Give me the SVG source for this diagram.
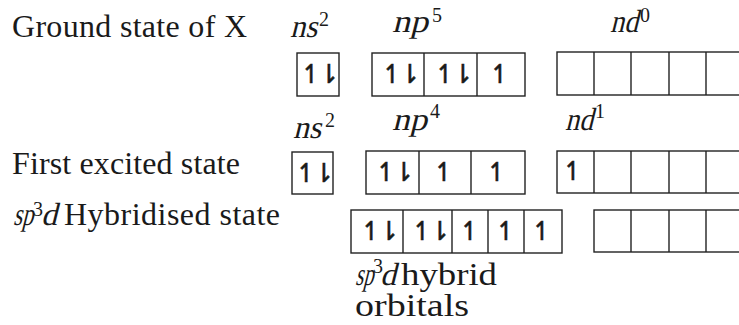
<svg xmlns="http://www.w3.org/2000/svg" width="739" height="325" viewBox="0 0 739 325">
<style>
.lbl{font-family:"Liberation Serif","Times New Roman",serif;font-size:32px;fill:#1a1a1a}
.it{font-family:"Liberation Serif","Times New Roman",serif;font-size:32px;fill:#1a1a1a}
.sup{font-family:"Liberation Serif","Times New Roman",serif;font-size:20px;fill:#1a1a1a}
.box{fill:#fff;stroke:#222;stroke-width:1.4}
.div{stroke:#222;stroke-width:1.4}
.e{font-family:"DejaVu Sans",sans-serif;font-size:26px;text-anchor:middle;fill:#1a1a1a;stroke:#1a1a1a;stroke-width:0.5}
.pr{letter-spacing:-4px}
</style>
<rect width="739" height="325" fill="#fff"/>
<g id="label-ground">
<text class="lbl" x="12" y="37" textLength="235" lengthAdjust="spacing">Ground state of X</text>
</g>
<g id="label-excited">
<text class="lbl" x="12" y="174" textLength="228" lengthAdjust="spacing">First excited state</text>
</g>
<g id="label-hybrid">
<g transform="translate(13,225) skewX(-14)"><text class="it" x="0" y="0" textLength="20" lengthAdjust="spacingAndGlyphs">sp</text></g>
<text class="sup" x="33" y="216">3</text>
<g transform="translate(41,225) skewX(-14)"><text class="it" x="0" y="0">d</text></g>
<text class="lbl" x="64" y="225" textLength="216" lengthAdjust="spacing">Hybridised state</text>
</g>
<g id="sub-ground">
<g transform="translate(290,37) skewX(-14)"><text class="it" x="0" y="0" textLength="27" lengthAdjust="spacingAndGlyphs">ns</text></g>
<text class="sup" x="319" y="26">2</text>
<g transform="translate(392,32) skewX(-14)"><text class="it" x="0" y="0" textLength="36" lengthAdjust="spacingAndGlyphs">np</text></g>
<text class="sup" x="432" y="22">5</text>
<g transform="translate(610,32) skewX(-14)"><text class="it" x="0" y="0" textLength="28" lengthAdjust="spacingAndGlyphs">nd</text></g>
<text class="sup" x="640" y="22">0</text>
</g>
<g id="sub-excited">
<g transform="translate(293,138) skewX(-14)"><text class="it" x="0" y="0" textLength="28" lengthAdjust="spacingAndGlyphs">ns</text></g>
<text class="sup" x="325" y="127">2</text>
<g transform="translate(392,130) skewX(-14)"><text class="it" x="0" y="0" textLength="35" lengthAdjust="spacingAndGlyphs">np</text></g>
<text class="sup" x="430" y="118">4</text>
<g transform="translate(565,130) skewX(-14)"><text class="it" x="0" y="0" textLength="28" lengthAdjust="spacingAndGlyphs">nd</text></g>
<text class="sup" x="595" y="118">1</text>
</g>
<g id="ground-ns">
<rect class="box" x="297" y="53" width="42" height="43"/>
<text class="e pr" x="318" y="83">↿⇂</text>
</g>
<g id="ground-np">
<rect class="box" x="372" y="53" width="153" height="43"/>
<line class="div" x1="424" y1="53" x2="424" y2="96"/>
<line class="div" x1="477" y1="53" x2="477" y2="96"/>
<text class="e pr" x="399" y="83">↿⇂</text>
<text class="e pr" x="452" y="83">↿⇂</text>
<text class="e" x="500" y="83">↿</text>
</g>
<g id="ground-nd">
<rect class="box" x="557" y="52" width="190" height="43"/>
<line class="div" x1="594" y1="52" x2="594" y2="95"/>
<line class="div" x1="631" y1="52" x2="631" y2="95"/>
<line class="div" x1="669" y1="52" x2="669" y2="95"/>
<line class="div" x1="706" y1="52" x2="706" y2="95"/>
</g>
<g id="excited-ns">
<rect class="box" x="292" y="152" width="41" height="42"/>
<text class="e pr" x="313" y="182">↿⇂</text>
</g>
<g id="excited-np">
<rect class="box" x="366" y="151" width="159" height="43"/>
<line class="div" x1="419" y1="151" x2="419" y2="194"/>
<line class="div" x1="471" y1="151" x2="471" y2="194"/>
<text class="e pr" x="393" y="181">↿⇂</text>
<text class="e" x="444" y="181">↿</text>
<text class="e" x="497" y="181">↿</text>
</g>
<g id="excited-nd">
<rect class="box" x="557" y="151" width="190" height="42"/>
<line class="div" x1="594" y1="151" x2="594" y2="193"/>
<line class="div" x1="631" y1="151" x2="631" y2="193"/>
<line class="div" x1="669" y1="151" x2="669" y2="193"/>
<line class="div" x1="706" y1="151" x2="706" y2="193"/>
<text class="e" x="573" y="180">↿</text>
</g>
<g id="hybrid-sp3d">
<rect class="box" x="351" y="210" width="211" height="43"/>
<line class="div" x1="403" y1="210" x2="403" y2="253"/>
<line class="div" x1="452" y1="210" x2="452" y2="253"/>
<line class="div" x1="488" y1="210" x2="488" y2="253"/>
<line class="div" x1="524" y1="210" x2="524" y2="253"/>
<text class="e pr" x="378" y="240">↿⇂</text>
<text class="e pr" x="429" y="240">↿⇂</text>
<text class="e" x="470" y="240">↿</text>
<text class="e" x="506" y="240">↿</text>
<text class="e" x="542" y="240">↿</text>
</g>
<g id="hybrid-d">
<rect class="box" x="594" y="210" width="153" height="42"/>
<line class="div" x1="631" y1="210" x2="631" y2="252"/>
<line class="div" x1="669" y1="210" x2="669" y2="252"/>
<line class="div" x1="706" y1="210" x2="706" y2="252"/>
</g>
<g id="caption">
<g transform="translate(355,285) skewX(-14)"><text class="it" x="0" y="0" textLength="18" lengthAdjust="spacingAndGlyphs">sp</text></g>
<text class="sup" x="373" y="273">3</text>
<g transform="translate(380,285) skewX(-14)"><text class="it" x="0" y="0">d</text></g>
<text class="lbl" x="401" y="285" textLength="96" lengthAdjust="spacingAndGlyphs">hybrid</text>
<text class="lbl" x="355" y="316" textLength="114" lengthAdjust="spacingAndGlyphs">orbitals</text>
</g>
</svg>
